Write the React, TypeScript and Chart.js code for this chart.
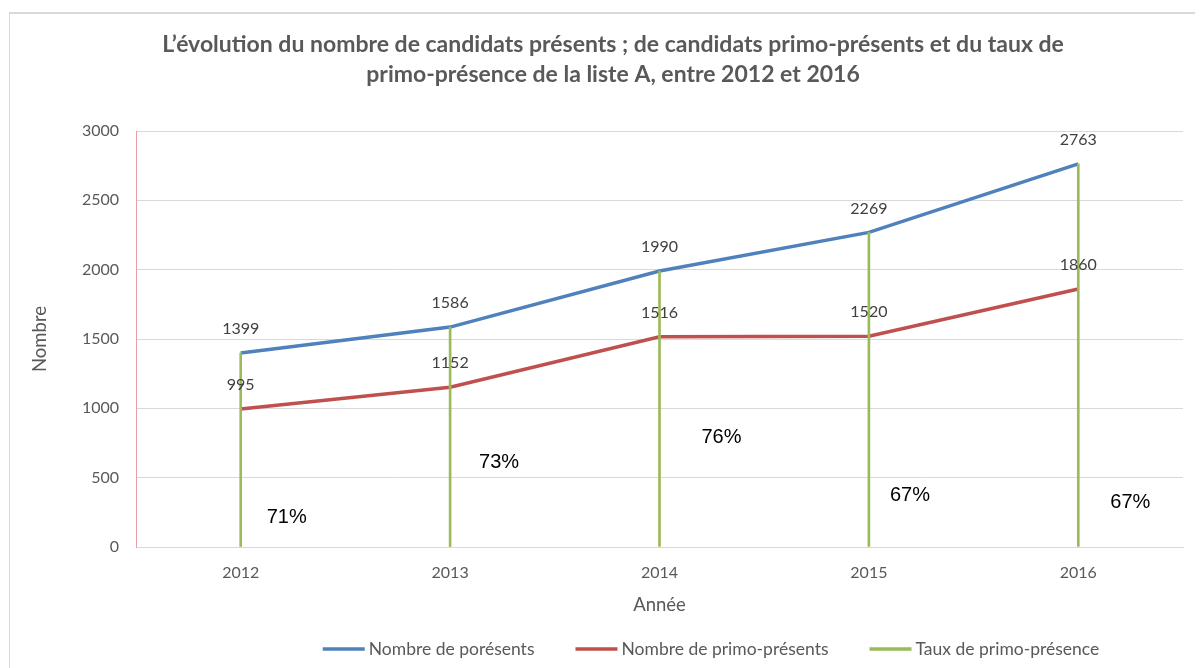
import React, { useEffect, useRef } from "react";
import { Chart, registerables } from "chart.js";

Chart.register(...registerables);

const years = ["2012", "2013", "2014", "2015", "2016"];
const presents = [1399, 1586, 1990, 2269, 2763];
const primoPresents = [995, 1152, 1516, 1520, 1860];
const tauxPrimo = [71, 73, 76, 67, 67];
// where the % labels sit (value on the y axis, horizontal shift in px)
const tauxLabelY = [216, 606, 793, 368, 324];
const tauxLabelDx = [46, 49, 62, 41, 52];
const yTicks = [0, 500, 1000, 1500, 2000, 2500, 3000];
const seriesNames = ["Nombre de porésents", "Nombre de primo-présents", "Taux de primo-présence"];

const titleLines = [
  "L’évolution du nombre de candidats présents ; de candidats primo-présents et du taux de",
  "primo-présence de la liste A, entre 2012 et 2016",
];

const BLUE = "#4f81bd";
const RED = "#c0504d";
const GREEN = "#9bbb59";
const GRAY = "#595959";
const FONT = "Lato, 'Open Sans', sans-serif";
const COLORS = [BLUE, RED, GREEN];

const decorPlugin = {
  id: "decor",
  beforeDraw(chart: any) {
    const { ctx, width, height } = chart;
    ctx.save();
    ctx.fillStyle = "#ffffff";
    ctx.fillRect(0, 0, width, height);
    ctx.strokeStyle = "#d9d9d9";
    ctx.lineWidth = 2;
    ctx.beginPath();
    ctx.moveTo(1, 5);
    ctx.lineTo(width, 5);
    ctx.stroke();
    ctx.lineWidth = 1;
    ctx.beginPath();
    ctx.moveTo(1.5, 5);
    ctx.lineTo(1.5, height);
    ctx.stroke();
    ctx.fillStyle = GRAY;
    ctx.font = `bold 23px ${FONT}`;
    ctx.textAlign = "center";
    ctx.textBaseline = "middle";
    ctx.fillText(titleLines[0], 605, 37);
    ctx.fillText(titleLines[1], 605, 67);
    ctx.restore();
  },
  afterDatasetsDraw(chart: any) {
    const { ctx } = chart;
    const xs = chart.scales.x;
    const ys = chart.scales.y;
    ctx.save();
    ctx.textAlign = "center";
    ctx.textBaseline = "middle";
    ctx.font = `16px ${FONT}`;
    ctx.fillStyle = "#404040";
    [presents, primoPresents].forEach((arr) => {
      arr.forEach((v, i) => {
        ctx.fillText(String(v), xs.getPixelForValue(i), ys.getPixelForValue(v) - 24);
      });
    });
    ctx.font = "20px 'Liberation Sans', Arial, sans-serif";
    ctx.fillStyle = "#000000";
    tauxPrimo.forEach((t, i) => {
      ctx.fillText(
        `${t}%`,
        xs.getPixelForValue(i) + tauxLabelDx[i],
        ys.getPixelForValue(tauxLabelY[i])
      );
    });
    ctx.restore();
  },
  afterDraw(chart: any) {
    const { ctx } = chart;
    ctx.save();
    ctx.font = `17.5px ${FONT}`;
    ctx.textBaseline = "middle";
    ctx.textAlign = "left";
    const markerW = 42;
    const gap = 4;
    const itemGap = 41;
    const widths = seriesNames.map((n) => markerW + gap + ctx.measureText(n).width);
    const total = widths.reduce((a, b) => a + b, 0) + itemGap * (seriesNames.length - 1);
    let x = 703 - total / 2;
    const y = 641;
    seriesNames.forEach((n, i) => {
      ctx.strokeStyle = COLORS[i];
      ctx.lineWidth = 3.5;
      ctx.beginPath();
      ctx.moveTo(x, y);
      ctx.lineTo(x + markerW, y);
      ctx.stroke();
      ctx.fillStyle = GRAY;
      ctx.fillText(n, x + markerW + gap, y);
      x += widths[i] + itemGap;
    });
    ctx.restore();
  },
};

export default function App() {
  const ref = useRef<HTMLCanvasElement | null>(null);

  useEffect(() => {
    if (!ref.current) return;
    const chart = new Chart(ref.current, {
      type: "bar",
      data: {
        labels: years,
        datasets: [
          {
            type: "line",
            label: seriesNames[0],
            data: presents,
            borderColor: BLUE,
            backgroundColor: BLUE,
            borderWidth: 3.5,
            pointRadius: 0,
            tension: 0,
            order: 2,
          } as any,
          {
            type: "line",
            label: seriesNames[1],
            data: primoPresents,
            borderColor: RED,
            backgroundColor: RED,
            borderWidth: 3.5,
            pointRadius: 0,
            tension: 0,
            order: 2,
          } as any,
          {
            type: "bar",
            label: seriesNames[2],
            data: presents.map((v) => [0, v]),
            backgroundColor: GREEN,
            borderWidth: 0,
            barThickness: 2,
            order: 1,
          } as any,
        ],
      },
      options: {
        animation: false,
        responsive: false,
        maintainAspectRatio: false,
        layout: { padding: { top: 123, right: 12, bottom: 49, left: 0 } },
        plugins: {
          tooltip: { enabled: false },
          title: { display: false },
          legend: { display: false },
        },
        scales: {
          x: {
            afterFit: (s: any) => {
              s.height = 72;
            },
            grid: { display: false, drawTicks: false },
            border: { display: true, color: "#d9d9d9", width: 1 },
            ticks: { color: GRAY, font: { family: FONT, size: 16 }, padding: 16 },
            title: {
              display: true,
              text: "Année",
              color: GRAY,
              font: { family: FONT, size: 18.5 },
              padding: { top: 0, bottom: 3 },
            },
          },
          y: {
            min: 0,
            max: 3000,
            afterFit: (s: any) => {
              s.width = 128;
            },
            afterBuildTicks: (s: any) => {
              s.ticks = yTicks.map((v) => ({ value: v }));
            },
            grid: { color: "#d9d9d9", drawTicks: false },
            border: { display: true, color: "#e6a0a0", width: 1 },
            ticks: {
              color: GRAY,
              font: { family: FONT, size: 16 },
              padding: 17,
              callback: (v: any) => String(v),
            },
            title: {
              display: true,
              text: "Nombre",
              color: GRAY,
              font: { family: FONT, size: 18.5 },
              padding: { top: 21, bottom: 0 },
            },
          },
        },
      },
      plugins: [decorPlugin],
    });
    return () => chart.destroy();
  }, []);

  return (
    <div style={{ width: 1187, height: 660 }}>
      <canvas ref={ref} width={1187} height={660} style={{ display: "block" }} />
    </div>
  );
}
